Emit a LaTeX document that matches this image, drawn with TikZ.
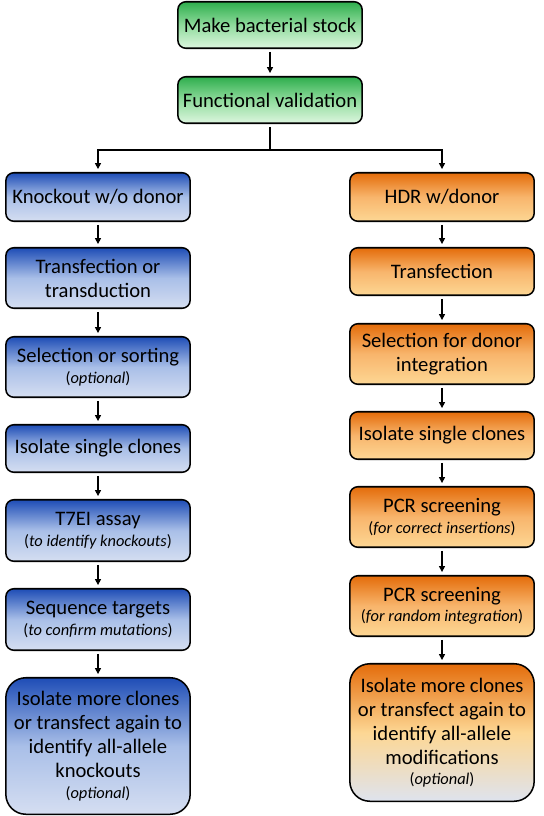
\documentclass[tikz,border=0pt]{standalone}
\usepackage{fontspec}
\setmainfont{Carlito}
\usetikzlibrary{arrows.meta}

\definecolor{grtop}{HTML}{2EAE4D}
\definecolor{grmid}{HTML}{8FDB9C}
\definecolor{grbot}{HTML}{DDF6DF}
\definecolor{bltop}{HTML}{1E4DB6}
\definecolor{blmid}{HTML}{A9BFE8}
\definecolor{blbot}{HTML}{D5DEF1}
\definecolor{ortop}{HTML}{E46C0A}
\definecolor{ormid}{HTML}{F8B56C}
\definecolor{orbot}{HTML}{FDD794}
\definecolor{orend}{HTML}{DEE3EE}

\newcommand{\aside}[1]{{\fontsize{14}{16}\selectfont(\textit{#1})}}

\tikzset{
  box/.style={draw, line width=1.3pt, rounded corners=0.24cm, minimum width=5.53cm,
    inner sep=2pt, align=center, font=\fontsize{17.6}{20.5}\selectfont},
  greenbox/.style={box, top color=grtop, bottom color=grbot, middle color=grmid},
  bluebox/.style={box, top color=bltop, bottom color=blbot, middle color=blmid},
  orangebox/.style={box, top color=ortop, bottom color=orbot, middle color=ormid},
  flow/.style={line width=1.2pt, -{Triangle[length=5pt,width=5pt]}, shorten >=2.5pt, shorten <=2.5pt},
  branch/.style={line width=1.2pt}
}

\begin{document}
\begin{tikzpicture}[x=0.03cm, y=-0.03cm]
  \useasboundingbox (0,0) rectangle (544,816);

  % Nodes
  \node[greenbox, minimum height=1.395cm] (stock) at (270,25) {Make bacterial stock};
  \node[greenbox, minimum height=1.395cm] (valid) at (270,100) {Functional validation};

  \node[bluebox, minimum height=1.455cm] (ko) at (98,197) {Knockout w/o donor};
  \node[bluebox, minimum height=1.815cm] (kotrans) at (98,278) {Transfection or\\transduction};
  \node[bluebox, minimum height=1.815cm] (kosel) at (98,367) {Selection or sorting\\[-3pt]\aside{optional}};
  \node[bluebox, minimum height=1.425cm] (koiso) at (98,448.5) {Isolate single clones};
  \node[bluebox, minimum height=1.845cm] (kot7) at (98,530.5) {T7EI assay\\[-3pt]\aside{to identify knockouts}};
  \node[bluebox, minimum height=1.845cm] (koseq) at (98,619.5) {Sequence targets\\[-3pt]\aside{to confirm mutations}};
  \node[bluebox, minimum height=4.095cm, rounded corners=0.6cm] (komore) at (98,746)
    {Isolate more clones\\or transfect again to\\identify all-allele\\knockouts\\[-3pt]\aside{optional}};

  \node[orangebox, minimum height=1.455cm] (hdr) at (442,197) {HDR w/donor};
  \node[orangebox, minimum height=1.425cm] (hdrtrans) at (442,271.5) {Transfection};
  \node[orangebox, minimum height=1.815cm] (hdrsel) at (442,354) {Selection for donor\\integration};
  \node[orangebox, minimum height=1.425cm] (hdriso) at (442,435.5) {Isolate single clones};
  \node[orangebox, minimum height=1.815cm] (hdrpcra) at (442,517) {PCR screening\\[-3pt]\aside{for correct insertions}};
  \node[orangebox, minimum height=1.815cm] (hdrpcrb) at (442,606) {PCR screening\\[-3pt]\aside{for random integration}};
  \node[box, top color=ortop, bottom color=orend, middle color=orbot, minimum height=4.125cm, rounded corners=0.6cm] (hdrmore) at (442,732.5)
    {Isolate more clones\\or transfect again to\\identify all-allele\\modifications\\[-3pt]\aside{optional}};

  \coordinate (split) at (270,150);

  % Edges
  \draw[flow] (stock) -- (valid);
  \draw[branch, shorten <=2.5pt] (valid) -- (split);
  \draw[flow, shorten <=0pt] (split) -| (ko);
  \draw[flow, shorten <=0pt] (split) -| (hdr);

  \draw[flow] (ko) -- (kotrans);
  \draw[flow] (kotrans) -- (kosel);
  \draw[flow] (kosel) -- (koiso);
  \draw[flow] (koiso) -- (kot7);
  \draw[flow] (kot7) -- (koseq);
  \draw[flow] (koseq) -- (komore);

  \draw[flow] (hdr) -- (hdrtrans);
  \draw[flow] (hdrtrans) -- (hdrsel);
  \draw[flow] (hdrsel) -- (hdriso);
  \draw[flow] (hdriso) -- (hdrpcra);
  \draw[flow] (hdrpcra) -- (hdrpcrb);
  \draw[flow] (hdrpcrb) -- (hdrmore);
\end{tikzpicture}
\end{document}
